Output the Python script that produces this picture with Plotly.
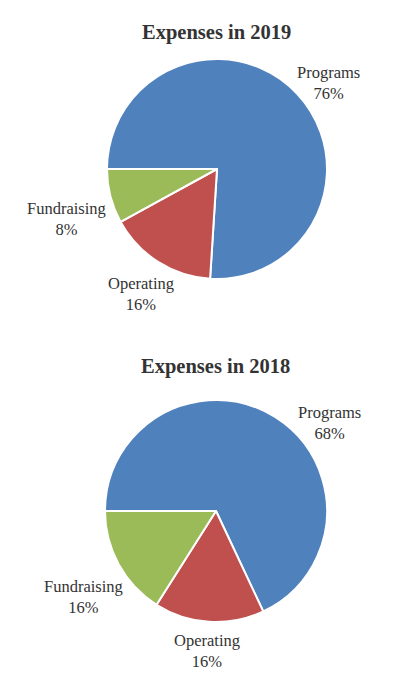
import plotly.graph_objects as go

categories = ["Programs", "Operating", "Fundraising"]
values_2019 = [76, 16, 8]
values_2018 = [68, 16, 16]
titles = ["Expenses in 2019", "Expenses in 2018"]
colors = ["#4F81BD", "#C0504D", "#9BBB59"]

W, H = 396, 678
OFF = 8  # default page body margin
FONT = "Liberation Serif"
TXT = "#333333"

def px(x):
    return (x - OFF) / W

def py(y):
    return 1 - (y - OFF) / H

fig = go.Figure()

pies = [
    dict(vals=values_2019, cx=217, cy=169, r=110),
    dict(vals=values_2018, cx=216, cy=511, r=111),
]
for p in pies:
    fig.add_trace(go.Pie(
        labels=categories, values=p["vals"], sort=False,
        direction="clockwise", rotation=270,
        marker=dict(colors=colors, line=dict(color="white", width=2)),
        textinfo="none", hoverinfo="label+percent", showlegend=False,
        domain=dict(x=[px(p["cx"] - p["r"]), px(p["cx"] + p["r"])],
                    y=[py(p["cy"] + p["r"]), py(p["cy"] - p["r"])]),
    ))

annotations = []
title_pos = [(216, 32), (215, 366)]
for t, (x, y) in zip(titles, title_pos):
    annotations.append(dict(text="<b>%s</b>" % t, x=px(x), y=py(y), xref="paper", yref="paper",
                            xanchor="center", yanchor="middle", showarrow=False,
                            font=dict(family=FONT, size=20.5, color=TXT)))

label_pos = [
    [(328, 83), (141, 294), (67, 219)],
    [(329, 423), (207, 651), (83, 597)],
]
for vals, poss in zip([values_2019, values_2018], label_pos):
    total = sum(vals)
    for cat, v, (x, y) in zip(categories, vals, poss):
        annotations.append(dict(text="%s<br>%d%%" % (cat, round(100 * v / total)),
                                x=px(x), y=py(y), xref="paper", yref="paper",
                                xanchor="center", yanchor="middle", showarrow=False,
                                font=dict(family=FONT, size=16.5, color=TXT)))

fig.update_layout(width=W, height=H, margin=dict(l=0, r=0, t=0, b=0),
                  paper_bgcolor="white", plot_bgcolor="white",
                  annotations=annotations)
fig.write_html("out.html")
